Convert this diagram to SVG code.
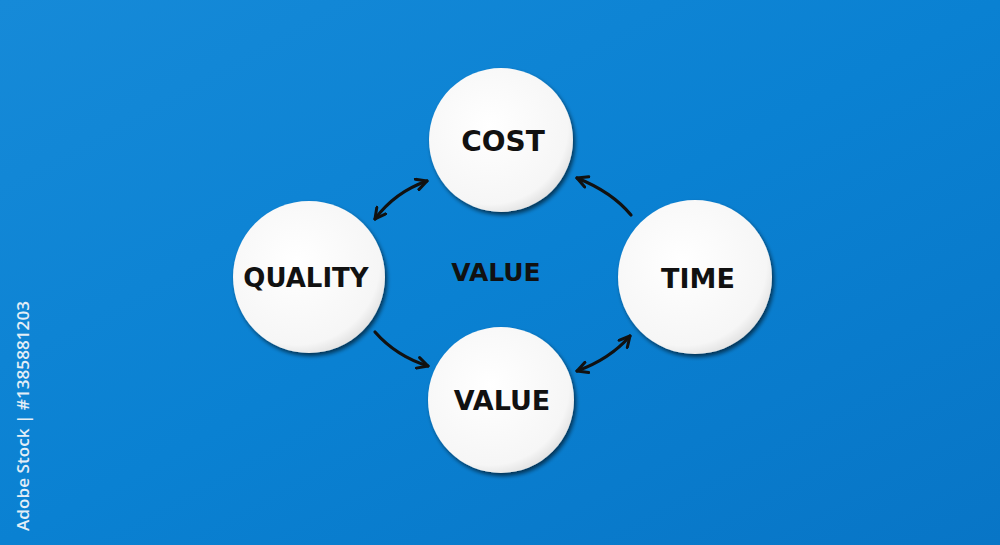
<svg xmlns="http://www.w3.org/2000/svg" width="1000" height="545" viewBox="0 0 1000 545">
<defs>
<linearGradient id="bg" x1="0" y1="0" x2="1" y2="1">
<stop offset="0" stop-color="#168ad8"/>
<stop offset="0.5" stop-color="#0a81d2"/>
<stop offset="1" stop-color="#0875c6"/>
</linearGradient>
<radialGradient id="disc" cx="0.42" cy="0.4" r="0.62">
<stop offset="0" stop-color="#ffffff"/>
<stop offset="0.88" stop-color="#f6f6f6"/>
<stop offset="1" stop-color="#e4e4e4"/>
</radialGradient>
<filter id="sh" x="-20%" y="-20%" width="150%" height="150%">
<feGaussianBlur in="SourceAlpha" stdDeviation="2"/>
<feOffset dx="2" dy="3" result="b"/>
<feComponentTransfer><feFuncA type="linear" slope="0.6"/></feComponentTransfer>
<feMerge><feMergeNode/><feMergeNode in="SourceGraphic"/></feMerge>
</filter>
<marker id="ah" viewBox="0 0 14 14" refX="12" refY="7" markerWidth="14" markerHeight="14" markerUnits="userSpaceOnUse" orient="auto-start-reverse">
<path d="M1.5,1.5 L12,7 L1.5,12.5" fill="none" stroke="#111" stroke-width="3" stroke-linecap="round" stroke-linejoin="round"/>
</marker>
</defs>
<style>
.disc{fill:url(#disc);filter:url(#sh)}
.lbl{font-family:"DejaVu Sans",sans-serif;font-weight:bold;fill:#111;text-anchor:middle;dominant-baseline:central}
.conn path{fill:none;stroke:#111;stroke-width:3.2;stroke-linecap:round}
.wm{font-family:"Open Sans","Liberation Sans",sans-serif;font-weight:600;fill:#e3eef7;font-size:17px}
</style>
<rect width="1000" height="545" fill="url(#bg)"/>
<text class="wm" transform="translate(29,531) rotate(-90)" textLength="230" lengthAdjust="spacingAndGlyphs">Adobe Stock | #1385881203</text>
<g id="cost"><circle class="disc" cx="501" cy="140" r="72"/><text class="lbl" x="503" y="141" font-size="28">COST</text></g>
<g id="quality"><circle class="disc" cx="309" cy="277" r="76"/><text class="lbl" x="306" y="278" font-size="26">QUALITY</text></g>
<g id="time"><circle class="disc" cx="695" cy="277" r="77"/><text class="lbl" x="698" y="278" font-size="27">TIME</text></g>
<g id="value-node"><circle class="disc" cx="501" cy="400" r="73"/><text class="lbl" x="502" y="400" font-size="27">VALUE</text></g>
<g id="center-label"><text class="lbl" x="496" y="272" font-size="25">VALUE</text></g>
<g id="connectors" class="conn">
<path d="M375,219 Q395,192 427,181" marker-start="url(#ah)" marker-end="url(#ah)"/>
<path d="M631,215 Q612,192 577,178" marker-end="url(#ah)"/>
<path d="M375,332 Q396,356 428,366" marker-end="url(#ah)"/>
<path d="M630,336 Q610,359 577,371" marker-start="url(#ah)" marker-end="url(#ah)"/>
</g>
</svg>
